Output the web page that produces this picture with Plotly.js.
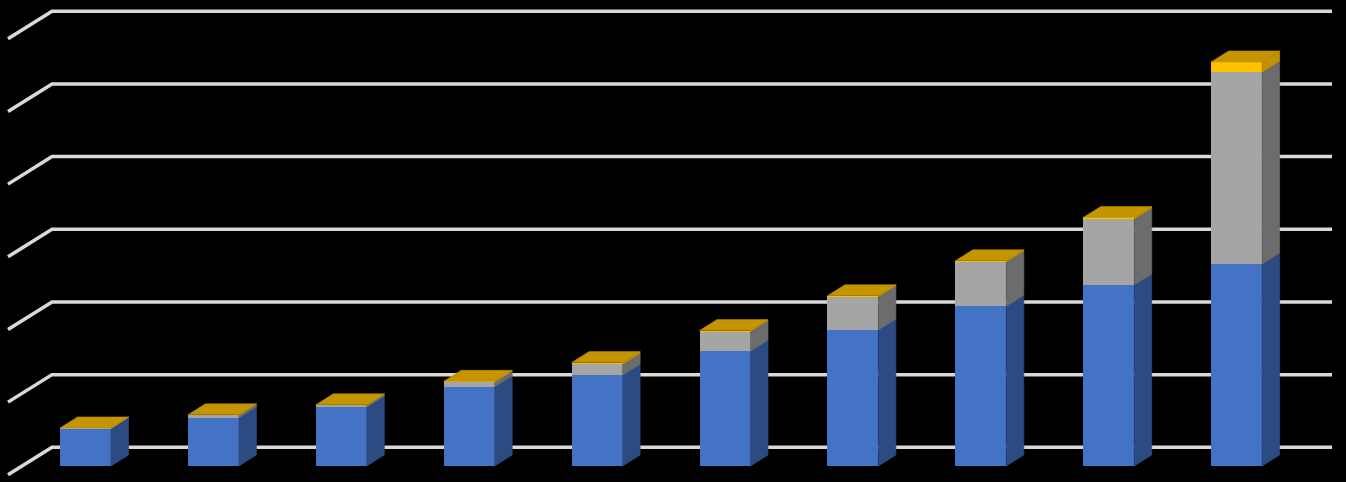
<!DOCTYPE html>
<html>
<head>
<meta charset="utf-8">
<script src="https://cdn.plot.ly/plotly-3.0.1.min.js"></script>
<style>html,body{margin:0;padding:0;background:#000;overflow:hidden}#chart{width:1346px;height:482px}</style>
</head>
<body>
<div id="chart"></div>
<script>
var positions = [0,1,2,3,4,5,6,7,8,9];
var blueValues = [51,66,81,109,125,158,187,220,249,278];
var grayValues = [1,4,2.8,6.5,15,27,46,61,91,264];
var goldValues = [0.4,0.4,0.4,1,2.3,1.4,1.4,1.4,2,14];
var gridLevels = [0,100,200,300,400,500,600];

var W = 1346, H = 482;
var pxPerCat = 127.9, firstCenterPx = 85.5, basePx = 466, pxPerUnit = 0.7267;
function xPx(px){ return (px - firstCenterPx) / pxPerCat; }
function yLen(px){ return px / pxPerUnit; }
var xRange = [xPx(0), xPx(W)];
var yRange = [yLen(basePx - H), yLen(basePx)];

var barWidth = 51 / pxPerCat;
var depthX = 17.5 / pxPerCat, depthY = yLen(11);

var traces = [];

// back-wall gridlines with their diagonal floor/side stubs
var wallY = yLen(basePx - 447.3);
gridLevels.forEach(function(level){
  var back = level + wallY;
  traces.push({
    type:'scatter', mode:'lines', xaxis:'x', yaxis:'y', hoverinfo:'skip', showlegend:false,
    x:[xPx(8), xPx(52), xPx(1332)],
    y:[back - yLen(27.5), back, back],
    line:{color:'#D9D9D9', width:3.5}
  });
});

// front faces
var series = [
  {name:'Blue', values:blueValues, front:'#4472C4', side:'#2C4B82'},
  {name:'Gray', values:grayValues, front:'#A5A5A5', side:'#6C6C6C'},
  {name:'Gold', values:goldValues, front:'#FFC000', side:'#BF9000'}
];
series.forEach(function(s){
  traces.push({
    type:'bar', name:s.name, xaxis:'x2', yaxis:'y2', x:positions, y:s.values, width:barWidth,
    marker:{color:s.front, line:{width:0}}, hoverinfo:'skip', showlegend:false
  });
});

// side faces and top faces, derived from the same values
var totals = positions.map(function(){ return 0; });
series.forEach(function(s){
  var xs = [], ys = [];
  positions.forEach(function(p, i){
    var y0 = totals[i], y1 = y0 + s.values[i], r = p + barWidth / 2;
    xs.push(r, r + depthX, r + depthX, r, r, null);
    ys.push(y0, y0 + depthY, y1 + depthY, y1, y0, null);
    totals[i] = y1;
  });
  traces.push({
    type:'scatter', mode:'lines', fill:'toself', fillcolor:s.side, line:{width:0.7, color:s.side},
    xaxis:'x2', yaxis:'y2', x:xs, y:ys, hoverinfo:'skip', showlegend:false
  });
});
var tx = [], ty = [];
positions.forEach(function(p, i){
  var l = p - barWidth / 2, r = p + barWidth / 2, t = totals[i];
  tx.push(l, l + depthX, r + depthX, r, l, null);
  ty.push(t, t + depthY, t + depthY, t, t, null);
});
traces.push({
  type:'scatter', mode:'lines', fill:'toself', fillcolor:'#C49500', line:{width:0.5, color:'#C49500'},
  xaxis:'x2', yaxis:'y2', x:tx, y:ty, hoverinfo:'skip', showlegend:false
});

var hidden = {visible:false, showgrid:false, zeroline:false, fixedrange:true};
var layout = {
  width:W, height:H, margin:{l:0,r:0,t:0,b:0,pad:0},
  paper_bgcolor:'#000', plot_bgcolor:'#000', barmode:'stack', showlegend:false, hovermode:false,
  xaxis:Object.assign({range:xRange, domain:[0,1]}, hidden),
  yaxis:Object.assign({range:yRange, domain:[0,1]}, hidden),
  xaxis2:Object.assign({range:xRange, overlaying:'x'}, hidden),
  yaxis2:Object.assign({range:yRange, overlaying:'y'}, hidden)
};
Plotly.newPlot('chart', traces, layout, {displayModeBar:false, staticPlot:true});
</script>
</body>
</html>
